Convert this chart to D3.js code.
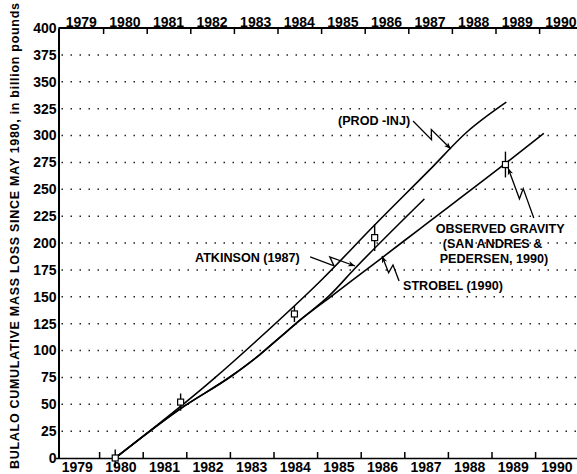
<!DOCTYPE html>
<html>
<head>
<meta charset="utf-8">
<script src="https://cdn.jsdelivr.net/npm/d3@7/dist/d3.min.js"></script>
<style>
  body { margin: 0; background: #fff; }
  svg { display: block; font-family: "Liberation Sans", Arial, sans-serif; }
</style>
</head>
<body>
<div id="chart"></div>
<script>
// year boundaries (ticks) and year labels (centred in each year)
var yearTicks  = [1980, 1981, 1982, 1983, 1984, 1985, 1986, 1987, 1988, 1989, 1990];
var yearLabels = [1979, 1980, 1981, 1982, 1983, 1984, 1985, 1986, 1987, 1988, 1989, 1990];
var massTicks  = [0, 25, 50, 75, 100, 125, 150, 175, 200, 225, 250, 275, 300, 325, 350, 375, 400];

// cumulative mass loss, billion pounds
var prodYears  = [1980.37, 1982.6, 1983.68, 1985.1, 1986.32, 1987.58, 1988.43, 1989.34];
var prodValues = [0, 72.6, 111.6, 165.6, 216.7, 268, 303, 331];

var atkinsonYears  = [1980.37, 1981.87, 1983.06, 1983.68, 1984.14, 1984.6, 1985.28, 1985.86, 1987.46];
var atkinsonValues = [0, 46, 77, 96, 112, 128, 151, 176, 241];

var strobelYears  = [1980.37, 1981.87, 1983.06, 1983.68, 1984.14, 1984.6, 1985.28, 1986.48, 1987.35, 1989.32, 1990.2];
var strobelValues = [0, 46, 77, 96, 112, 128, 149, 186, 213, 274, 302];

// observed gravity surveys with error bars
var gravityYears  = [1980.37, 1981.87, 1984.48, 1986.32, 1989.32];
var gravityValues = [0, 52, 134, 205, 273];
var gravityErrors = [8, 8, 7.5, 12.5, 12];

var width = 577, height = 474;

var x = d3.scaleLinear().domain([1979, 1991]).range([55.5, 578.7]);
var y = d3.scaleLinear().domain([0, 400]).range([458, 28]);

var svg = d3.select('#chart')
    .append('svg')
    .attr('width', width)
    .attr('height', height);

svg.append('rect').attr('width', width).attr('height', height).attr('fill', '#fff');

// arrow head for the leader lines
svg.append('defs')
    .append('marker')
    .attr('id', 'arrow')
    .attr('viewBox', '0 -5 10 10')
    .attr('refX', 10)
    .attr('refY', 0)
    .attr('markerUnits', 'userSpaceOnUse')
    .attr('markerWidth', 9)
    .attr('markerHeight', 7)
    .attr('orient', 'auto')
    .append('path')
    .attr('d', 'M 0 -4 L 10 0 L 0 4 L 3 0 z')
    .attr('fill', '#000');

//dotted grid
svg.append('g')
    .selectAll('line')
    .data(massTicks.filter(function (d) { return d > 0 && d < 400; }))
    .enter()
    .append('line')
    .attr('x1', x(1979) + 6)
    .attr('x2', width)
    .attr('y1', function (d) { return y(d); })
    .attr('y2', function (d) { return y(d); })
    .attr('stroke', '#222')
    .attr('stroke-width', 1.5)
    .attr('stroke-dasharray', '1.5,7.5');

// left axis
var leftAxis = svg.append('g')
    .attr('transform', 'translate(58.5,0)')
    .call(d3.axisLeft(y).tickValues(massTicks).tickSize(0).tickPadding(2));
leftAxis.select('.domain').attr('stroke-width', 2);
leftAxis.selectAll('text')
    .attr('font-family', '"Liberation Sans", Arial, sans-serif')
    .attr('font-size', 14)
    .attr('font-weight', 'bold')
    .attr('fill', '#000');

// bottom axis
var bottomAxis = svg.append('g')
    .attr('transform', 'translate(0,' + y(0) + ')')
    .call(d3.axisBottom(x).tickValues(yearTicks).tickSizeInner(-6).tickSizeOuter(0).tickFormat(''));
bottomAxis.select('.domain').attr('stroke-width', 1.5);
bottomAxis.selectAll('.tick line').attr('stroke-width', 1.5);

svg.append('g')
    .selectAll('text')
    .data(yearLabels)
    .enter()
    .append('text')
    .attr('x', function (d) { return x(d + 0.5); })
    .attr('y', 471.5)
    .attr('text-anchor', 'middle')
    .attr('font-size', 14)
    .attr('font-weight', 'bold')
    .text(function (d) { return d; });

// top axis (scan is shifted a few pixels)
var topAxis = svg.append('g')
    .attr('transform', 'translate(4,' + y(400) + ')')
    .call(d3.axisTop(x).tickValues(yearTicks).tickSizeInner(-6).tickSizeOuter(0).tickFormat(''));
topAxis.select('.domain').attr('stroke-width', 2).attr('d', 'M' + (58.5 - 4) + ',0H' + width);
topAxis.selectAll('.tick line').attr('stroke-width', 1.5);

svg.append('g')
    .selectAll('text')
    .data(yearLabels)
    .enter()
    .append('text')
    .attr('x', function (d) { return x(d + 0.5) + 4; })
    .attr('y', y(400) - 1.5)
    .attr('text-anchor', 'middle')
    .attr('font-size', 14)
    .attr('font-weight', 'bold')
    .text(function (d) { return d; });

// y axis title
svg.append('text')
    .attr('transform', 'translate(19,236) rotate(-90)')
    .attr('text-anchor', 'middle')
    .attr('font-size', 12.5)
    .attr('font-weight', 'bold')
    .attr('textLength', 466)
    .attr('lengthAdjust', 'spacing')
    .text('BULALO  CUMULATIVE  MASS  LOSS  SINCE  MAY  1980,  in  billion  pounds');

// curves
var series = [
    {years: prodYears, values: prodValues},
    {years: atkinsonYears, values: atkinsonValues},
    {years: strobelYears, values: strobelValues}
];
var line = d3.line()
    .curve(d3.curveMonotoneX)
    .x(function (d) { return x(d[0]); })
    .y(function (d) { return y(d[1]); });

svg.append('g')
    .selectAll('path')
    .data(series)
    .enter()
    .append('path')
    .attr('d', function (s) { return line(d3.zip(s.years, s.values)); })
    .attr('fill', 'none')
    .attr('stroke', '#000')
    .attr('stroke-width', 1.6)
    .attr('stroke-linejoin', 'round');

// gravity points
var pts = svg.append('g')
    .selectAll('g')
    .data(d3.range(gravityYears.length))
    .enter()
    .append('g');
pts.append('line')
    .attr('x1', function (i) { return x(gravityYears[i]); })
    .attr('x2', function (i) { return x(gravityYears[i]); })
    .attr('y1', function (i) { return y(gravityValues[i] - gravityErrors[i]); })
    .attr('y2', function (i) { return y(gravityValues[i] + gravityErrors[i]); })
    .attr('stroke', '#000')
    .attr('stroke-width', 1.4);
pts.append('rect')
    .attr('x', function (i) { return x(gravityYears[i]) - 3; })
    .attr('y', function (i) { return y(gravityValues[i]) - 3; })
    .attr('width', 6)
    .attr('height', 6)
    .attr('fill', '#fff')
    .attr('stroke', '#000')
    .attr('stroke-width', 1.2);

// labels, placed in data units
var notes = [
    {lines: ['(PROD -INJ)'], at: [1985.48, 309.8], from: [1987.2, 313.5], to: [1988.07, 287.4]},
    {lines: ['ATKINSON (1987)'], at: [1982.2, 182.3], from: [1984.84, 187], to: [1985.87, 178.6]},
    {lines: ['STROBEL (1990)'], at: [1986.97, 156.3], from: [1986.88, 164.7], to: [1986.49, 188]},
    {lines: ['OBSERVED GRAVITY', '(SAN ANDRES &', 'PEDERSEN, 1990)'], at: [1987.72, 209.3],
        from: [1989.97, 223.3], to: [1989.38, 269.8]}
];

function leader(n) {
    var p0 = [x(n.from[0]), y(n.from[1])],
        p1 = [x(n.to[0]), y(n.to[1])],
        dx = p1[0] - p0[0], dy = p1[1] - p0[1],
        len = Math.sqrt(dx * dx + dy * dy),
        nx = -dy / len * 4, ny = dx / len * 4;
    var a = [p0[0] + dx * 0.55 + nx, p0[1] + dy * 0.55 + ny],
        b = [p0[0] + dx * 0.42 - nx, p0[1] + dy * 0.42 - ny];
    return 'M' + p0 + 'L' + a + 'L' + b + 'L' + p1;
}

var note = svg.append('g')
    .selectAll('g')
    .data(notes)
    .enter()
    .append('g');
note.append('path')
    .attr('d', leader)
    .attr('fill', 'none')
    .attr('stroke', '#000')
    .attr('stroke-width', 1.3)
    .attr('marker-end', 'url(#arrow)');
note.each(function (n) {
    d3.select(this).append('text')
        .attr('x', x(n.at[0]))
        .attr('y', y(n.at[1]))
        .attr('font-size', 12.6)
        .attr('font-weight', 'bold')
        .selectAll('tspan')
        .data(n.lines)
        .enter()
        .append('tspan')
        .attr('x', function (d, i) { return x(n.at[0]) + [0, 7, 4][i]; })
        .attr('dy', function (d, i) { return i === 0 ? 0 : 15; })
        .text(function (d) { return d; });
});
</script>
</body>
</html>
